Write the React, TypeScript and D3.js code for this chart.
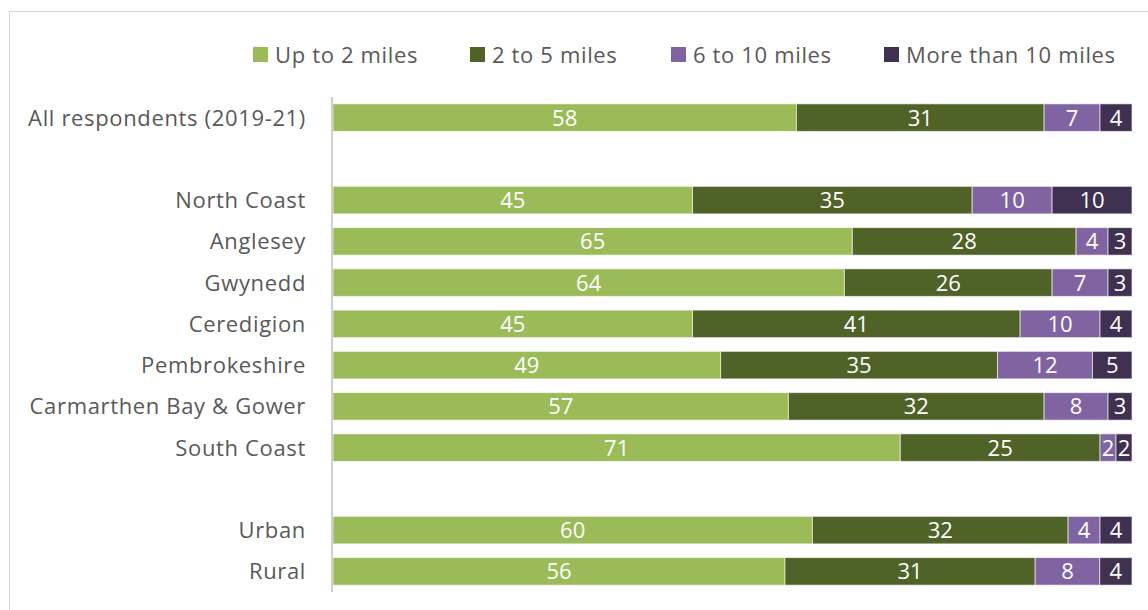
import React from "react";
import * as d3 from "d3";

const categories = [
  "All respondents (2019-21)",
  "",
  "North Coast",
  "Anglesey",
  "Gwynedd",
  "Ceredigion",
  "Pembrokeshire",
  "Carmarthen Bay & Gower",
  "South Coast",
  " ",
  "Urban",
  "Rural",
];
const seriesNames = ["Up to 2 miles", "2 to 5 miles", "6 to 10 miles", "More than 10 miles"];
const upTo2 = [58, null, 45, 65, 64, 45, 49, 57, 71, null, 60, 56];
const twoTo5 = [31, null, 35, 28, 26, 41, 35, 32, 25, null, 32, 31];
const sixTo10 = [7, null, 10, 4, 7, 10, 12, 8, 2, null, 4, 8];
const moreThan10 = [4, null, 10, 3, 3, 4, 5, 3, 2, null, 4, 4];
const colors = ["#9BBB59", "#4F6228", "#8064A2", "#403151"];

const FONT = "'Open Sans', Lato, sans-serif";

export default function App() {
  const W = 1148, H = 610;
  const series = [upTo2, twoTo5, sixTo10, moreThan10];
  const x = d3.scaleLinear().domain([0, 1]).range([333, 1132]);
  const y = d3
    .scaleBand<string>()
    .domain(categories)
    .range([97, 592])
    .paddingInner(0.333)
    .paddingOuter(0.1665);
  const bw = y.bandwidth();

  const legendX = [253, 470, 671, 884];
  const fs = 22;
  const ls = 0.65;

  return (
    <svg width={W} height={H} style={{ position: "absolute", left: 0, top: 0 }} fontFamily={FONT}>
      <rect x={0} y={0} width={W} height={H} fill="#fff" />
      <rect x={9.5} y={11.5} width={W + 20} height={H + 20} fill="none" stroke="#D9D9D9" strokeWidth={1} />
      {/* legend */}
      {seriesNames.map((n, i) => (
        <g key={n}>
          <rect x={legendX[i]} y={47} width={15} height={15} fill={colors[i]} />
          <text x={legendX[i] + 22} y={62.5} fontSize={fs} letterSpacing={ls} fill="#595959">
            {n}
          </text>
        </g>
      ))}
      {/* bars */}
      {categories.map((c, ci) => {
        if (upTo2[ci] == null) return null;
        const vals = series.map((s) => s[ci] as number);
        const total = d3.sum(vals);
        let cum = 0;
        const y0 = y(c)!;
        return (
          <g key={ci}>
            {vals.map((v, si) => {
              const x0 = x(cum / total);
              cum += v;
              const x1 = x(cum / total);
              return (
                <g key={si}>
                  <rect
                    x={x0}
                    y={y0}
                    width={x1 - x0}
                    height={bw}
                    fill={colors[si]}
                    stroke="#fff"
                    strokeOpacity={0.6}
                    strokeWidth={1}
                  />
                  <text
                    x={(x0 + x1) / 2}
                    y={y0 + bw / 2 + 8}
                    textAnchor="middle"
                    fontSize={fs}
                    fill="#fff"
                  >
                    {v}
                  </text>
                </g>
              );
            })}
          </g>
        );
      })}
      {/* category labels */}
      {categories.map((c, ci) =>
        c.trim() ? (
          <text
            key={ci}
            x={306}
            y={y(c)! + bw / 2 + 8}
            textAnchor="end"
            fontSize={fs}
            letterSpacing={ls}
            fill="#595959"
          >
            {c}
          </text>
        ) : null
      )}
      {/* axis line */}
      <line x1={332} x2={332} y1={97} y2={592} stroke="#BFBFBF" strokeWidth={1.5} />
    </svg>
  );
}
